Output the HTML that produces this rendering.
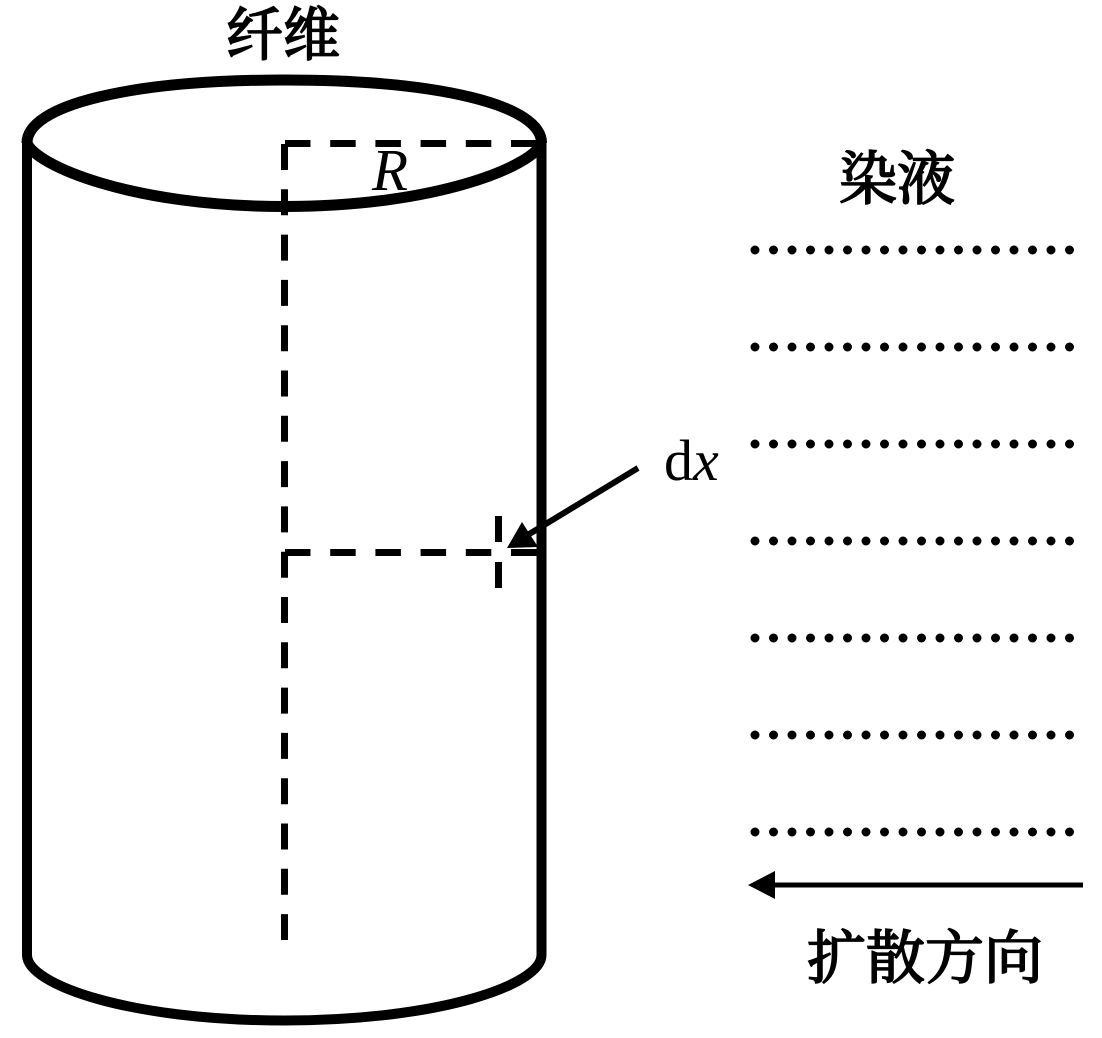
<!DOCTYPE html>
<html>
<head>
<meta charset="utf-8">
<style>
html,body{margin:0;padding:0;background:#fff;width:1102px;height:1038px;overflow:hidden}
svg{display:block}
.c{font-family:"Liberation Serif","Noto Serif CJK SC",serif;font-size:58px;font-weight:400;fill:#000;stroke:#000;stroke-width:1.8px}
.l{font-family:"Liberation Serif",serif;fill:#000}
</style>
</head>
<body>
<svg width="1102" height="1038" viewBox="0 0 1102 1038" xmlns="http://www.w3.org/2000/svg">
<rect width="1102" height="1038" fill="#fff"/>
<g fill="none" stroke="#000">
<path d="M27 143C27 105 130 80 284.500 80S541.500 105 541.500 143" stroke-width="11"/>
<path d="M27 143C35 165 130 206.500 284.500 206.500S534 165 541.500 143" stroke-width="11"/>
<path d="M27 140V955C27 985 130 1020.500 284.500 1020.500S541.500 985 541.500 955V140" stroke-width="10"/>
<path d="M284.500 144V940" stroke-width="7" stroke-dasharray="26 19.300"/>
<path d="M285 143.500H537" stroke-width="7" stroke-dasharray="25.500 19.700"/>
<path d="M285 552.500H537" stroke-width="7" stroke-dasharray="25.500 19.700"/>
<path d="M498.500 516V542M498.500 562V588" stroke-width="7"/>
<path d="M638 468L526 536" stroke-width="6"/>
<path d="M1083 885H772" stroke-width="5"/>
</g>
<path d="M507 548L522 522L538 547Z" fill="#000"/>
<path d="M748 885L775 871V899Z" fill="#000"/>
<g fill="none" stroke="#000" stroke-width="9" stroke-linecap="round" stroke-dasharray="0 18.500">
<path d="M755 250H1072"/>
<path d="M755 347H1072"/>
<path d="M755 444H1072"/>
<path d="M755 541H1072"/>
<path d="M755 638H1072"/>
<path d="M755 735H1072"/>
<path d="M755 832H1072"/>
</g>
<text class="c" x="226" y="55" textLength="114" lengthAdjust="spacingAndGlyphs">纤维</text>
<text class="c" x="839" y="199" textLength="116" lengthAdjust="spacingAndGlyphs">染液</text>
<text class="c" x="807" y="978" textLength="236" lengthAdjust="spacingAndGlyphs">扩散方向</text>
<text class="l" x="372" y="190" font-size="59" font-style="italic">R</text>
<text class="l" x="664" y="480" font-size="58">d<tspan font-style="italic">x</tspan></text>
</svg>
</body>
</html>
